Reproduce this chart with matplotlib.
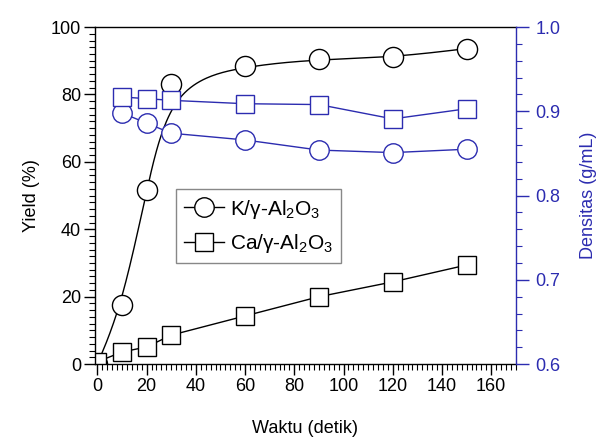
import numpy as np
import matplotlib
matplotlib.use("Agg")
import matplotlib.pyplot as plt
from matplotlib.ticker import MultipleLocator
from matplotlib.lines import Line2D

plt.rcParams['font.family'] = ['Liberation Sans', 'DejaVu Sans']
plt.rcParams['mathtext.fontset'] = 'custom'
plt.rcParams['mathtext.rm'] = 'Liberation Sans'
plt.rcParams['mathtext.it'] = 'Liberation Sans:italic'

# data
waktu = [0, 10, 20, 30, 60, 90, 120, 150]
yield_k = [0, 17.5, 51.6, 83.1, 88.5, 90.4, 91.0, 93.6]
yield_ca = [0.7, 3.6, 5.1, 8.6, 14.3, 20.0, 24.4, 29.4]

waktu_dens = [10, 20, 30, 60, 90, 120, 150]
dens_k = [0.898, 0.886, 0.874, 0.866, 0.854, 0.851, 0.855]
dens_ca = [0.917, 0.915, 0.913, 0.909, 0.908, 0.891, 0.903]

BLUE = '#2c2cb0'


def bspline(xs, ys, n=40):
    # clamped uniform cubic B-spline with the data as control points
    px = np.array([xs[0]] * 2 + list(xs) + [xs[-1]] * 2, dtype=float)
    py = np.array([ys[0]] * 2 + list(ys) + [ys[-1]] * 2, dtype=float)
    t = np.linspace(0, 1, n)
    b0 = (1 - t) ** 3 / 6
    b1 = (3 * t ** 3 - 6 * t ** 2 + 4) / 6
    b2 = (-3 * t ** 3 + 3 * t ** 2 + 3 * t + 1) / 6
    b3 = t ** 3 / 6
    outx, outy = [], []
    for i in range(len(px) - 3):
        outx.append(b0 * px[i] + b1 * px[i + 1] + b2 * px[i + 2] + b3 * px[i + 3])
        outy.append(b0 * py[i] + b1 * py[i + 1] + b2 * py[i + 2] + b3 * py[i + 3])
    return np.concatenate(outx), np.concatenate(outy)


fig = plt.figure(figsize=(5.97, 4.43), dpi=100)
ax = fig.add_axes([0.159, 0.178, 0.705, 0.761])
ax2 = ax.twinx()

sx, sy = bspline(waktu, yield_k)
ax.plot(sx, sy, color='black', lw=1.0)
ax.plot(waktu, yield_k, ls='none', marker='o', ms=14.5, mfc='white', mec='black', mew=1.0)
ax.plot(waktu, yield_ca, color='black', lw=1.0, marker='s', ms=13, mfc='white', mec='black', mew=1.0)

ax2.plot(waktu_dens, dens_k, color=BLUE, lw=1.0, marker='o', ms=14, mfc='white', mec=BLUE, mew=1.0)
ax2.plot(waktu_dens, dens_ca, color=BLUE, lw=1.0, marker='s', ms=13, mfc='white', mec=BLUE, mew=1.0)

ax.set_xlim(-1, 170)
ax.set_ylim(0, 100)
ax2.set_ylim(0.6, 1.0)

ax.xaxis.set_major_locator(MultipleLocator(20))
ax.xaxis.set_minor_locator(MultipleLocator(2))
ax.yaxis.set_major_locator(MultipleLocator(20))
ax.yaxis.set_minor_locator(MultipleLocator(2))
ax2.yaxis.set_major_locator(MultipleLocator(0.1))
ax2.yaxis.set_minor_locator(MultipleLocator(0.02))

ax.tick_params(which='major', direction='out', length=8, width=1.0, labelsize=13, pad=2)
ax.tick_params(which='minor', direction='out', length=4, width=0.8)
ax2.tick_params(which='major', direction='out', length=9, width=1.0, labelsize=13, pad=5,
                colors=BLUE)
ax2.tick_params(which='minor', direction='out', length=4, width=0.8, colors=BLUE)
ax2.yaxis.set_major_formatter(plt.FuncFormatter(lambda v, p: f"{v:.1f}"))

for s in ['left', 'bottom', 'top']:
    ax.spines[s].set_linewidth(1.0)
ax.spines['right'].set_visible(False)
for s in ['left', 'bottom', 'top']:
    ax2.spines[s].set_visible(False)
ax2.spines['right'].set_color(BLUE)
ax2.spines['right'].set_linewidth(1.0)

ax.set_xlabel('Waktu (detik)', fontsize=13, labelpad=18)
ax.set_ylabel('Yield (%)', fontsize=13, labelpad=8)
ax2.set_ylabel('Densitas (g/mL)', fontsize=13, color=BLUE, labelpad=14)

handles = [
    Line2D([], [], color='black', lw=1.0, marker='o', ms=14, mfc='white', mec='black'),
    Line2D([], [], color='black', lw=1.0, marker='s', ms=13, mfc='white', mec='black'),
]
labels = ['K/γ-Al$_2$O$_3$', 'Ca/γ-Al$_2$O$_3$']
leg = ax2.legend(handles, labels, loc='upper left', bbox_to_anchor=(0.192, 0.519),
                 borderaxespad=0, fontsize=15, fancybox=False, framealpha=1,
                 edgecolor='#888888', handlelength=1.9, handletextpad=0.3,
                 numpoints=1, borderpad=0.4, labelspacing=0.55)
leg.get_frame().set_linewidth(1.0)

fig.savefig('out.png', dpi=100)
